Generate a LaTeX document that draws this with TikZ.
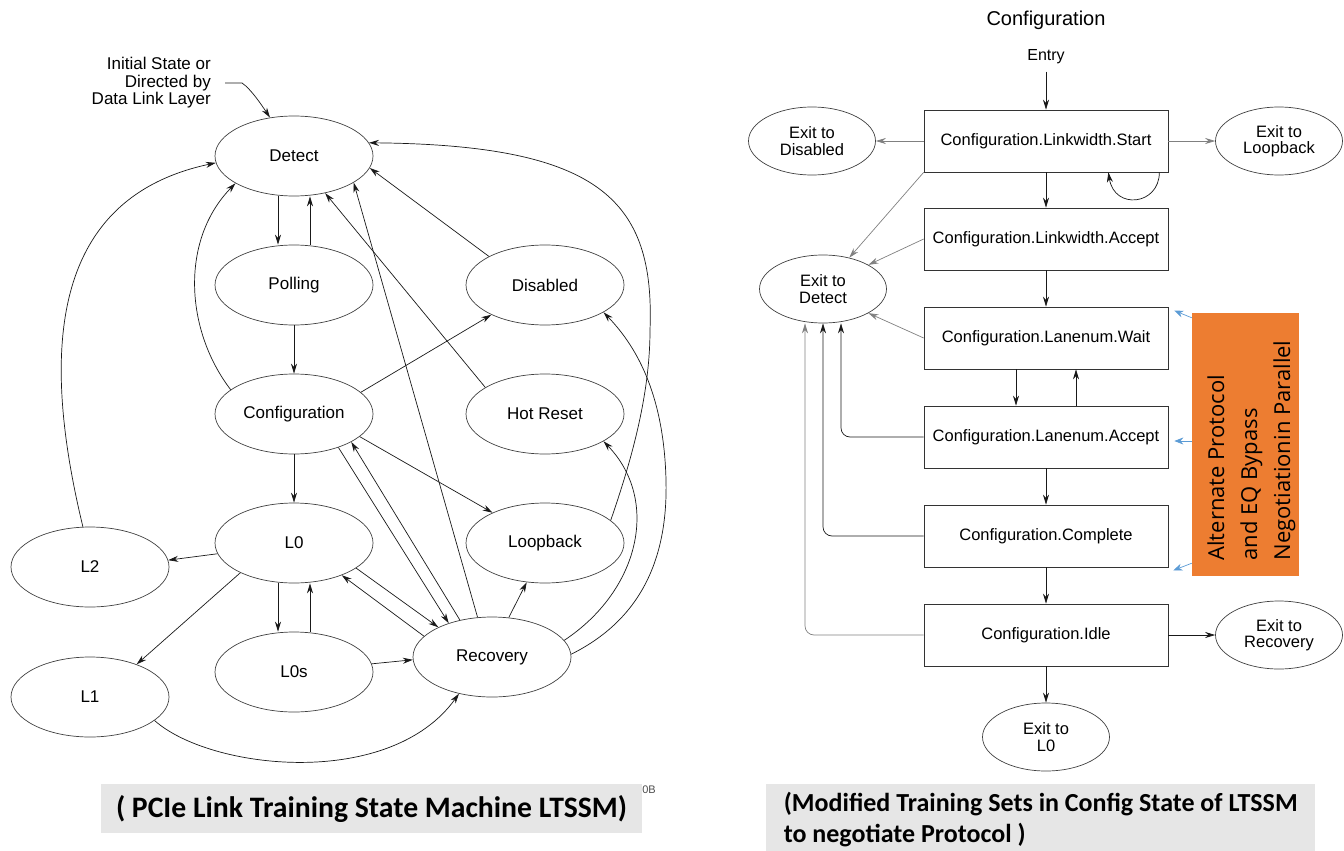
\documentclass[tikz,border=0pt]{standalone}
\usepackage{fontspec}
\setmainfont{Liberation Sans}
\newfontfamily\capfont{Carlito}
\newfontfamily\altfont{Open Sans}
\usetikzlibrary{arrows.meta,shapes.geometric}
\definecolor{altorange}{RGB}{237,125,49}
\definecolor{altblue}{RGB}{91,155,213}
\definecolor{capgray}{RGB}{230,230,230}

\begin{document}
\begin{tikzpicture}[x=1pt,y=-1pt,
  st/.style={ellipse,draw=black!75,line width=0.7pt,minimum width=158pt,minimum height=80pt,inner sep=0pt,font=\fontsize{17}{19}\selectfont},
  ex/.style={ellipse,draw=black!75,line width=0.7pt,minimum width=127pt,minimum height=68pt,inner sep=0pt,align=center,font=\fontsize{16.5}{16.5}\selectfont},
  sub/.style={rectangle,draw=black!80,line width=0.7pt,minimum width=244pt,minimum height=62pt,inner sep=0pt,font=\fontsize{16.5}{19}\selectfont},
  arr/.style={-{Stealth[length=10pt,width=6pt]},line width=0.7pt,black!90},
  garr/.style={arr,draw=black!50},
  barr/.style={-{Stealth[length=9pt,width=7pt]},line width=0.7pt,altblue},
  capbox/.style={fill=capgray,inner sep=0pt,font=\capfont\bfseries\fontsize{29.7}{32}\selectfont}]
  \useasboundingbox (0,0) rectangle (1344,851);

  % LTSSM states
  \node[st] (detect) at (294,156) {Detect};
  \node[st] (polling) at (294,285) {Polling};
  \node[st] (config) at (294,414) {Configuration};
  \node[st] (l0) at (294,543) {L0};
  \node[st] (l0s) at (294,672) {L0s};
  \node[st] (l2) at (90,567) {L2};
  \node[st] (l1) at (90,697) {L1};
  \node[st] (recovery) at (492,657) {Recovery};
  \node[st] (disabled) at (545,285) {Disabled};
  \node[st] (hotreset) at (545,414) {Hot Reset};
  \node[st] (loopback) at (545,543) {Loopback};
  \node[align=right,anchor=east,inner sep=0pt,font=\fontsize{17}{17.5}\selectfont] (init) at (211,83) {Initial State or\\Directed by\\Data Link Layer};
  \node[font=\fontsize{11}{13}\selectfont,text=black!70] (figno) at (649,790) {0B};

  % LTSSM transitions
  \draw[arr] ([xshift=14pt]init.east) -- ++(17,0) .. controls +(9,6) and +(-8,-12) .. (detect.122);
  \draw[arr] ([xshift=-16pt]detect.south) -- ([xshift=-16pt]polling.north);
  \draw[arr] ([xshift=16pt]polling.north) -- ([xshift=16pt]detect.south);
  \draw[arr] (polling) -- (config);
  \draw[arr] (config) -- (l0);
  \draw[arr] ([xshift=-16pt]l0.south) -- ([xshift=-16pt]l0s.north);
  \draw[arr] ([xshift=16pt]l0s.north) -- ([xshift=16pt]l0.south);
  \draw[arr] (config.159) .. controls (185,330) and (180,240) .. (detect.205);
  \draw[arr] (l2.100) .. controls (45,370) and (40,200) .. (detect.185);
  \draw[arr] (config.18) -- (disabled.209);
  \draw[arr] (config.341) -- (loopback.150);
  \draw[arr] (config.323) -- (recovery.142);
  \draw[arr] (recovery.131) -- (config.334);
  \draw[arr] (recovery.110) -- (detect.336);
  \draw[arr] (hotreset.156) -- (detect.310);
  \draw[arr] (disabled.153) -- (detect.351);
  \draw[arr] (loopback.19) .. controls (628,470) and (650,400) .. (650,330) .. controls (655,200) and (600,145) .. (detect.10);
  \draw[arr] (recovery.13) .. controls (640,590) and (660,500) .. (hotreset.335);
  \draw[arr] (recovery.2) .. controls (640,620) and (668,560) .. (666,480) .. controls (664,400) and (640,350) .. (disabled.335);
  \draw[arr] (recovery.67) -- (loopback.245);
  \draw[arr] (l0.188) -- (l2.5);
  \draw[arr] (l0.209) -- (l1.35);
  \draw[arr] (l0.338) -- (recovery.151);
  \draw[arr] (recovery.163) -- (l0.326);
  \draw[arr] (l0s.6) -- (recovery.182);
  \draw[arr] (l1.340) .. controls (210,770) and (390,790) .. (recovery.228);

  % Configuration substates
  \node[font=\fontsize{20}{24}\selectfont] (cfgtitle) at (1046,20) {Configuration};
  \node[font=\fontsize{16}{19}\selectfont] (entry) at (1046,57) {Entry};
  \node[sub] (lwstart) at (1046,141) {Configuration.Linkwidth.Start};
  \node[sub] (lwacc) at (1046,239) {Configuration.Linkwidth.Accept};
  \node[sub] (lnwait) at (1046,338) {Configuration.Lanenum.Wait};
  \node[sub] (lnacc) at (1046,437) {Configuration.Lanenum.Accept};
  \node[sub] (complete) at (1046,536) {Configuration.Complete};
  \node[sub] (idle) at (1046,635) {Configuration.Idle};
  \node[ex] (exdis) at (812,141) {Exit to\\Disabled};
  \node[ex] (exloop) at (1279,141) {Exit to\\Loopback};
  \node[ex] (exdet) at (823,289) {Exit to\\Detect};
  \node[ex] (exrec) at (1279,635) {Exit to\\Recovery};
  \node[ex] (exl0) at (1046,737) {Exit to\\L0};

  % substate transitions
  \draw[arr] ([yshift=-4pt]entry.south) -- (lwstart);
  \draw[garr] (lwstart) -- (exdis);
  \draw[garr] (lwstart) -- (exloop);
  \draw[arr] (lwstart) -- (lwacc);
  \draw[arr] ([xshift=-9pt]lwstart.south east) .. controls +(0,33) and +(6,38) .. ([xshift=-60pt]lwstart.south east);
  \draw[garr] (lwstart.south west) -- (exdet.50);
  \draw[garr] (lwacc.west) -- (exdet.28);
  \draw[garr] (lnwait.west) -- (exdet.332);
  \draw[arr] (lwacc) -- (lnwait);
  \draw[arr] ([xshift=-30pt]lnwait.south) -- ([xshift=-30pt]lnacc.north);
  \draw[arr] ([xshift=30pt]lnacc.north) -- ([xshift=30pt]lnwait.south);
  \draw[arr] (lnacc) -- (complete);
  \draw[arr] (complete) -- (idle);
  \draw[arr] (idle) -- (exl0);
  \draw[arr] (idle) -- (exrec);
  \draw[arr,rounded corners=9pt] (lnacc.west) -| ([xshift=18pt]exdet.south);
  \draw[arr,rounded corners=9pt] (complete.west) -| (exdet.south);
  \draw[garr,rounded corners=9pt] (idle.west) -| ([xshift=-18pt]exdet.south);

  % protocol negotiation note
  \node[fill=altorange,minimum width=107pt,minimum height=263pt,inner sep=0pt] (alt) at (1245.5,444.5) {};
  \node[rotate=90,inner sep=0pt,font=\altfont\fontsize{22}{33}\selectfont] (alttext) at ([shift={(5pt,-6pt)}]alt.center)
    {\begin{tabular}{@{}l@{}}Alternate Protocol\\and EQ Bypass\\Negotiationin Parallel\end{tabular}};
  \draw[barr] ([yshift=-5pt]alt.north west) -- ([shift={(6pt,-4pt)}]lnwait.north east);
  \draw[barr] ([shift={(24pt,-4pt)}]lnacc.east) -- ([shift={(6pt,-4pt)}]lnacc.east);
  \draw[barr] ([yshift=13pt]alt.south west) -- ([shift={(5pt,-3pt)}]complete.south east);

  % captions
  \node[capbox,minimum width=541pt,minimum height=49pt] (capl) at (371.5,808.5) {( PCIe Link Training State Machine LTSSM)};
  \node[capbox,anchor=north west,minimum width=549pt,minimum height=70pt,align=left,font=\capfont\bfseries\fontsize{26}{31}\selectfont] (capr) at (766,784)
    {(Modified Training Sets in Config State of LTSSM\\to negotiate Protocol )};
\end{tikzpicture}
\end{document}
